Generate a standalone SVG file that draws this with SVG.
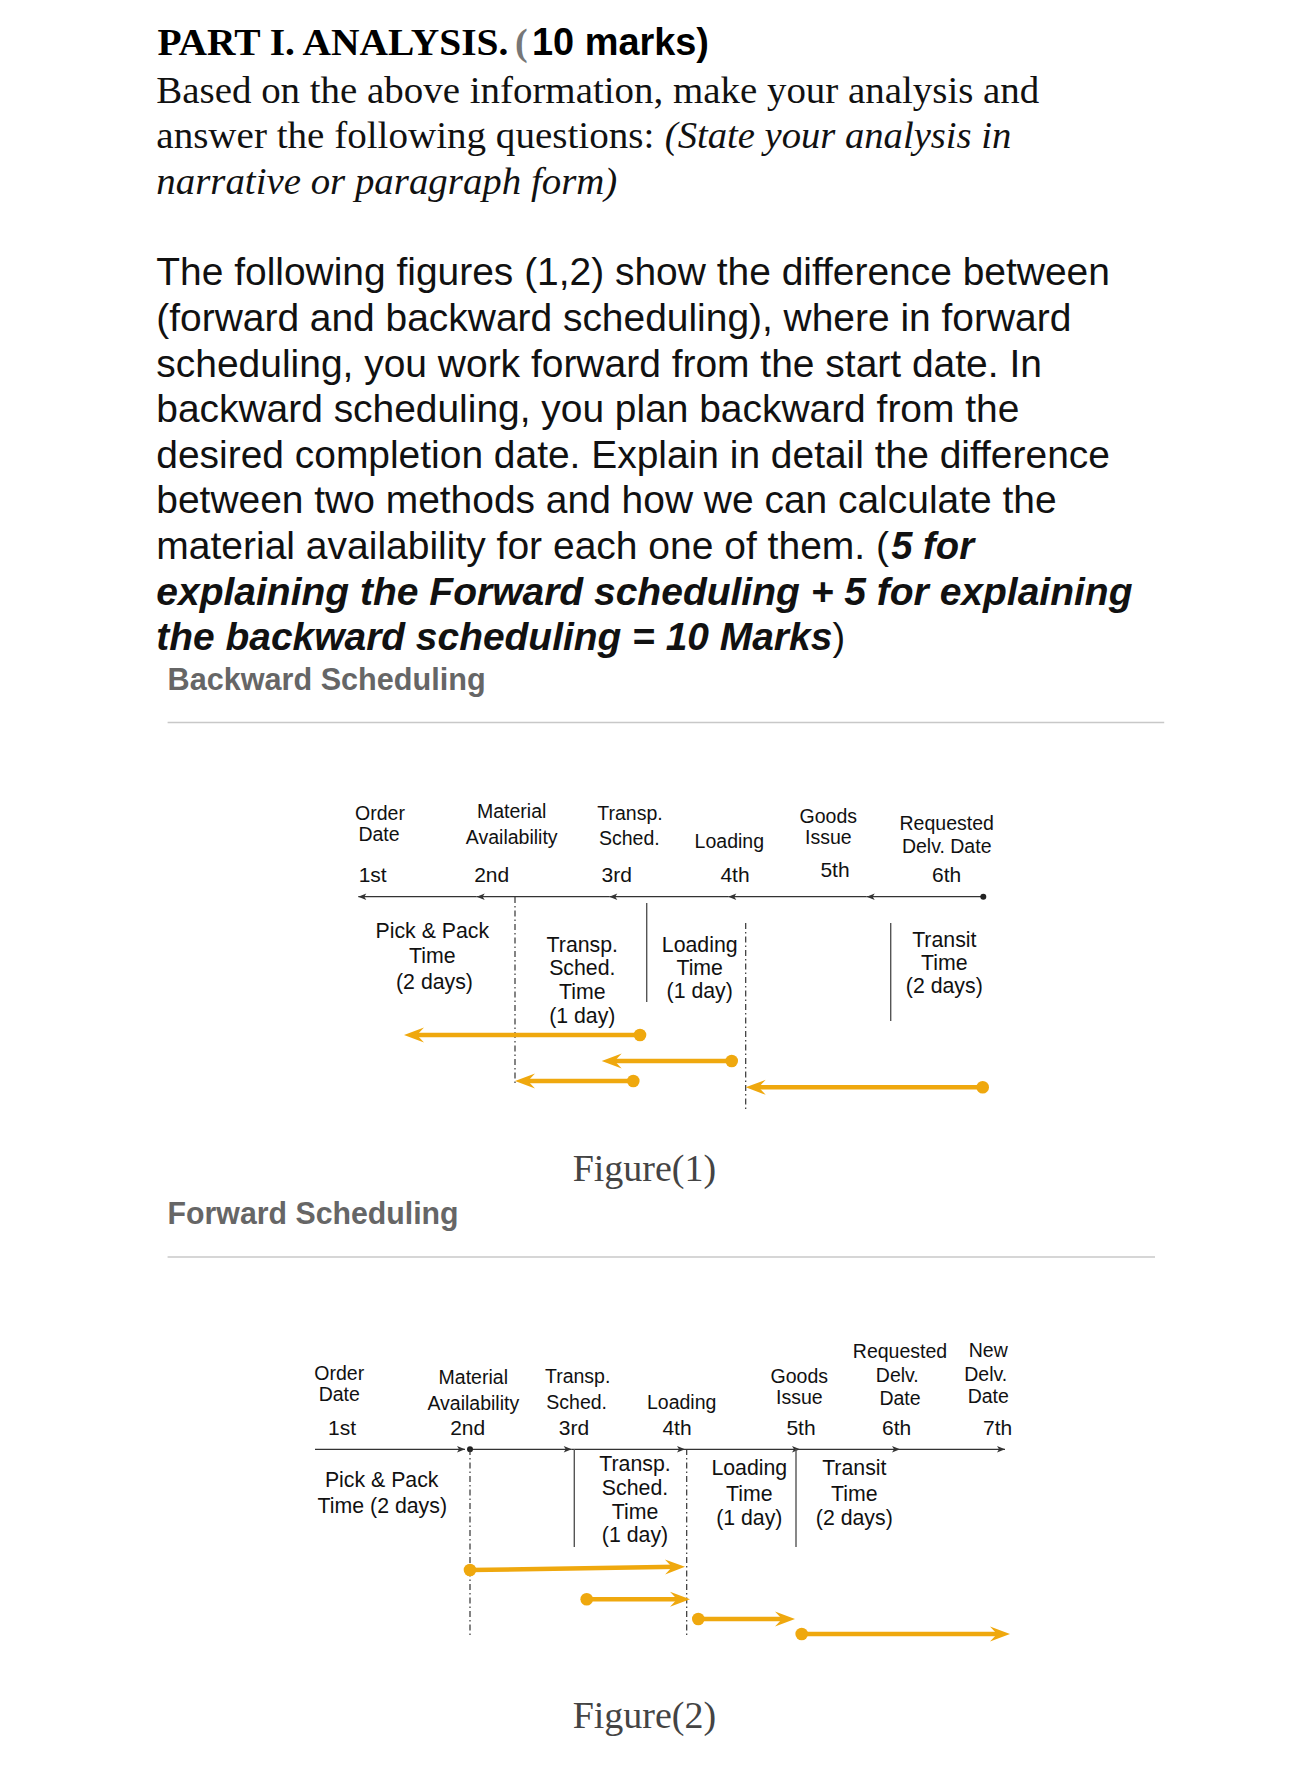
<svg xmlns="http://www.w3.org/2000/svg" width="1290" height="1777" viewBox="0 0 1290 1777">
<style>
.serif{font-family:"Liberation Serif","Times New Roman",serif;font-size:38px;fill:#111}
.sans{font-family:"Liberation Sans",Arial,sans-serif;font-size:38px;fill:#111}
.b{font-weight:bold}
.i{font-style:italic}
.head{font-family:"Liberation Sans",Arial,sans-serif;font-size:31px;font-weight:bold;fill:#666}
.rule{stroke:#c8c8c8;stroke-width:1.6}
.fig{font-family:"Liberation Serif","Times New Roman",serif;font-size:38px;fill:#444;text-anchor:middle}
.lt{font-family:"Liberation Sans",Arial,sans-serif;font-size:19.5px;fill:#111;text-anchor:middle}
.dt{font-family:"Liberation Sans",Arial,sans-serif;font-size:21px;fill:#111;text-anchor:middle}
.bt{font-family:"Liberation Sans",Arial,sans-serif;font-size:21.3px;fill:#111;text-anchor:middle}
.tl{stroke:#333;stroke-width:1.3;fill:none;marker-end:url(#ah)}
.sv{stroke:#555;stroke-width:1.4}
.dd{stroke:#333;stroke-width:1.2;stroke-dasharray:6 3 1.5 3}
.oa{stroke:#EFA80E;stroke-width:4.5;fill:none;marker-end:url(#oh)}
.od{fill:#EFA80E}
</style>
<defs>
<marker id="ah" markerUnits="userSpaceOnUse" viewBox="-10 -5 12 10" markerWidth="12" markerHeight="10" refX="0" refY="0" orient="auto">
<path d="M0,0 L-8,-3.2 L-6,0 L-8,3.2 Z" fill="#333"/>
</marker>
<marker id="oh" markerUnits="userSpaceOnUse" viewBox="-22 -9 24 18" markerWidth="24" markerHeight="18" refX="-8" refY="0" orient="auto">
<path d="M0,0 L-20,-7.5 L-13,0 L-20,7.5 Z" fill="#EFA80E"/>
</marker>
</defs>
<rect width="1290" height="1777" fill="#fff"/>

<g id="title">
<text class="serif b" x="157.4" y="55" textLength="351" lengthAdjust="spacingAndGlyphs" style="fill:#000">PART I. ANALYSIS.</text>
<text class="serif b" x="515" y="55" style="fill:#777">(</text>
<text class="sans b" x="532" y="55" textLength="177" lengthAdjust="spacingAndGlyphs" style="fill:#000">10 marks)</text>
<text class="serif" x="156.3" y="103" textLength="883" lengthAdjust="spacingAndGlyphs">Based on the above information, make your analysis and</text>
<text class="serif" x="156.3" y="148.3" textLength="498" lengthAdjust="spacingAndGlyphs">answer the following questions:</text>
<text class="serif i" x="664.8" y="148.3" textLength="346.5" lengthAdjust="spacingAndGlyphs">(State your analysis in</text>
<text class="serif i" x="156.3" y="193.6" textLength="461" lengthAdjust="spacingAndGlyphs">narrative or paragraph form)</text>
</g>

<g id="question">
<text class="sans" x="156.3" y="285.4" textLength="953.6" lengthAdjust="spacingAndGlyphs">The following figures (1,2) show the difference between</text>
<text class="sans" x="156.3" y="331" textLength="915" lengthAdjust="spacingAndGlyphs">(forward and backward scheduling), where in forward</text>
<text class="sans" x="156.3" y="376.6" textLength="885.6" lengthAdjust="spacingAndGlyphs">scheduling, you work forward from the start date. In</text>
<text class="sans" x="156.3" y="422.2" textLength="863" lengthAdjust="spacingAndGlyphs">backward scheduling, you plan backward from the</text>
<text class="sans" x="156.3" y="467.8" textLength="953.6" lengthAdjust="spacingAndGlyphs">desired completion date. Explain in detail the difference</text>
<text class="sans" x="156.3" y="513.4" textLength="900.3" lengthAdjust="spacingAndGlyphs">between two methods and how we can calculate the</text>
<text class="sans" x="156.3" y="559" textLength="732.7" lengthAdjust="spacingAndGlyphs">material availability for each one of them. (</text>
<text class="sans b i" x="891.3" y="559" textLength="82.7" lengthAdjust="spacingAndGlyphs">5 for</text>
<text class="sans b i" x="156.3" y="604.6" textLength="976.2" lengthAdjust="spacingAndGlyphs">explaining the Forward scheduling + 5 for explaining</text>
<text class="sans b i" x="156.3" y="650.2" textLength="676" lengthAdjust="spacingAndGlyphs">the backward scheduling = 10 Marks</text>
<text class="sans" x="832.4" y="650.2">)</text>
</g>

<g id="backward-heading">
<text class="head" x="167.6" y="689.7" textLength="318" lengthAdjust="spacingAndGlyphs">Backward Scheduling</text>
<line class="rule" x1="167.6" y1="722.5" x2="1164.2" y2="722.5"/>
</g>

<!-- Figure 1 -->
<g id="fig1-connectors">
<path class="tl" d="M983.3,896.7 L866.7,896.7"/>
<path class="tl" d="M866.7,896.7 L728.3,896.7"/>
<path class="tl" d="M728.3,896.7 L609.3,896.7"/>
<path class="tl" d="M609.3,896.7 L476.7,896.7"/>
<path class="tl" d="M476.7,896.7 L358.3,896.7"/>
<circle cx="983.3" cy="896.7" r="3" fill="#222"/>
<line class="dd" x1="515" y1="897" x2="515" y2="1085"/>
<line class="sv" x1="646.7" y1="903" x2="646.7" y2="1002"/>
<line class="dd" x1="745.7" y1="923" x2="745.7" y2="1112"/>
<line class="sv" x1="890.7" y1="923" x2="890.7" y2="1021"/>
<path class="oa" d="M640,1035 L412,1035"/>
<circle class="od" cx="640" cy="1035" r="6.3"/>
<path class="oa" d="M731.7,1061 L609.7,1061"/>
<circle class="od" cx="731.7" cy="1061" r="6.3"/>
<path class="oa" d="M633.3,1081 L523,1081"/>
<circle class="od" cx="633.3" cy="1081" r="6.3"/>
<path class="oa" d="M982.7,1087.3 L753.7,1087.3"/>
<circle class="od" cx="982.7" cy="1087.3" r="6.3"/>
</g>
<g id="fig1-order">
<text class="lt" x="380" y="820">Order</text>
<text class="lt" x="379" y="841">Date</text>
<text class="dt" x="372.7" y="881.7">1st</text>
</g>
<g id="fig1-material">
<text class="lt" x="511.7" y="818.3">Material</text>
<text class="lt" x="511.7" y="844.3">Availability</text>
<text class="dt" x="491.7" y="881.7">2nd</text>
</g>
<g id="fig1-transp">
<text class="lt" x="630" y="820">Transp.</text>
<text class="lt" x="629.3" y="845">Sched.</text>
<text class="dt" x="616.7" y="881.7">3rd</text>
</g>
<g id="fig1-loading">
<text class="lt" x="729.3" y="847.7">Loading</text>
<text class="dt" x="735" y="881.7">4th</text>
</g>
<g id="fig1-goods">
<text class="lt" x="828.3" y="823.3">Goods</text>
<text class="lt" x="828.3" y="844.3">Issue</text>
<text class="dt" x="835" y="876.7">5th</text>
</g>
<g id="fig1-requested">
<text class="lt" x="946.7" y="830">Requested</text>
<text class="lt" x="946.7" y="853.3">Delv. Date</text>
<text class="dt" x="946.7" y="881.7">6th</text>
</g>
<g id="fig1-pickpack">
<text class="bt" x="432.3" y="938.3">Pick &amp; Pack</text>
<text class="bt" x="432.3" y="963.3">Time</text>
<text class="bt" x="434.5" y="989">(2 days)</text>
</g>
<g id="fig1-transptime">
<text class="bt" x="582.3" y="951.7">Transp.</text>
<text class="bt" x="582.3" y="975">Sched.</text>
<text class="bt" x="582.3" y="999">Time</text>
<text class="bt" x="582.3" y="1023">(1 day)</text>
</g>
<g id="fig1-loadingtime">
<text class="bt" x="699.7" y="951.7">Loading</text>
<text class="bt" x="699.7" y="975">Time</text>
<text class="bt" x="699.7" y="998.3">(1 day)</text>
</g>
<g id="fig1-transit">
<text class="bt" x="944.3" y="946.7">Transit</text>
<text class="bt" x="944.3" y="970">Time</text>
<text class="bt" x="944.3" y="993.3">(2 days)</text>
</g>
<text id="fig1-caption" class="fig" x="644.4" y="1181.2">Figure(1)</text>

<g id="forward-heading">
<text class="head" x="167.6" y="1224" textLength="291" lengthAdjust="spacingAndGlyphs">Forward Scheduling</text>
<line class="rule" x1="167.6" y1="1257" x2="1155" y2="1257"/>
</g>

<!-- Figure 2 -->
<g id="fig2-connectors">
<path class="tl" d="M315,1449.3 L465,1449.3"/>
<path class="tl" d="M470,1449.3 L571.7,1449.3"/>
<path class="tl" d="M571.7,1449.3 L685,1449.3"/>
<path class="tl" d="M685,1449.3 L800,1449.3"/>
<path class="tl" d="M800,1449.3 L900,1449.3"/>
<path class="tl" d="M900,1449.3 L1005,1449.3"/>
<circle cx="470" cy="1449.3" r="3" fill="#222"/>
<line class="dd" x1="470" y1="1449" x2="470" y2="1637"/>
<line class="sv" x1="574.3" y1="1449" x2="574.3" y2="1547"/>
<line class="dd" x1="686.7" y1="1449" x2="686.7" y2="1637"/>
<line class="sv" x1="796" y1="1449" x2="796" y2="1547"/>
<path class="oa" d="M470,1570 L677,1566.8"/>
<circle class="od" cx="470" cy="1570" r="6.3"/>
<path class="oa" d="M586.7,1599.3 L682,1599.3"/>
<circle class="od" cx="586.7" cy="1599.3" r="6.3"/>
<path class="oa" d="M698.3,1619 L787,1619"/>
<circle class="od" cx="698.3" cy="1619" r="6.3"/>
<path class="oa" d="M801.7,1634 L1002,1634"/>
<circle class="od" cx="801.7" cy="1634" r="6.3"/>
</g>
<g id="fig2-order">
<text class="lt" x="339.3" y="1380">Order</text>
<text class="lt" x="339.3" y="1401">Date</text>
<text class="dt" x="342" y="1435">1st</text>
</g>
<g id="fig2-material">
<text class="lt" x="473.3" y="1384.3">Material</text>
<text class="lt" x="473.3" y="1410">Availability</text>
<text class="dt" x="467.7" y="1435">2nd</text>
</g>
<g id="fig2-transp">
<text class="lt" x="577.7" y="1383.3">Transp.</text>
<text class="lt" x="576.7" y="1409.3">Sched.</text>
<text class="dt" x="574" y="1435">3rd</text>
</g>
<g id="fig2-loading">
<text class="lt" x="681.7" y="1409.3">Loading</text>
<text class="dt" x="677" y="1435">4th</text>
</g>
<g id="fig2-goods">
<text class="lt" x="799.3" y="1383.3">Goods</text>
<text class="lt" x="799.3" y="1404.3">Issue</text>
<text class="dt" x="801" y="1435">5th</text>
</g>
<g id="fig2-requested">
<text class="lt" x="900" y="1358.3">Requested</text>
<text class="lt" x="897.3" y="1381.7">Delv.</text>
<text class="lt" x="900" y="1405">Date</text>
<text class="dt" x="896.7" y="1435">6th</text>
</g>
<g id="fig2-new">
<text class="lt" x="988.3" y="1356.7">New</text>
<text class="lt" x="985.7" y="1380.7">Delv.</text>
<text class="lt" x="988.3" y="1403.3">Date</text>
<text class="dt" x="997.7" y="1435">7th</text>
</g>
<g id="fig2-pickpack">
<text class="bt" x="381.7" y="1486.7">Pick &amp; Pack</text>
<text class="bt" x="382.3" y="1512.7">Time (2 days)</text>
</g>
<g id="fig2-transptime">
<text class="bt" x="635" y="1471">Transp.</text>
<text class="bt" x="635" y="1495">Sched.</text>
<text class="bt" x="635" y="1519">Time</text>
<text class="bt" x="635" y="1542">(1 day)</text>
</g>
<g id="fig2-loadingtime">
<text class="bt" x="749.3" y="1475">Loading</text>
<text class="bt" x="749.3" y="1501">Time</text>
<text class="bt" x="749.3" y="1525">(1 day)</text>
</g>
<g id="fig2-transit">
<text class="bt" x="854.3" y="1475">Transit</text>
<text class="bt" x="854.3" y="1501">Time</text>
<text class="bt" x="854.3" y="1525">(2 days)</text>
</g>
<text id="fig2-caption" class="fig" x="644.4" y="1728">Figure(2)</text>
</svg>
